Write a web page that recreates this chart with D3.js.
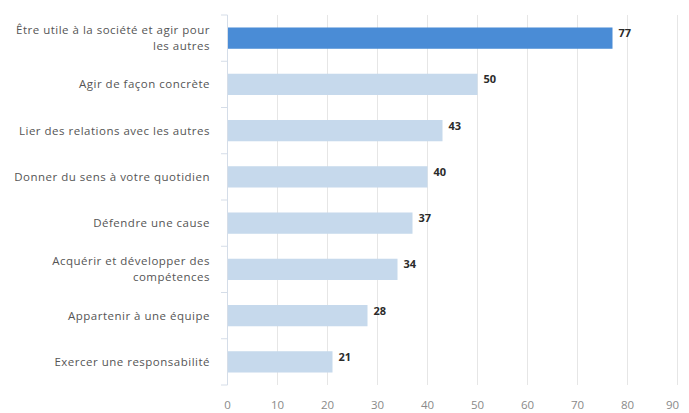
<!DOCTYPE html>
<html><head><meta charset="utf-8">
<script src="https://cdn.jsdelivr.net/npm/d3@7"></script>
<style>body{margin:0;background:#fff}svg{display:block}</style>
</head><body>
<svg id="c" width="689" height="413"></svg>
<script>
const categories = [
  "Être utile à la société et agir pour les autres",
  "Agir de façon concrète",
  "Lier des relations avec les autres",
  "Donner du sens à votre quotidien",
  "Défendre une cause",
  "Acquérir et développer des compétences",
  "Appartenir à une équipe",
  "Exercer une responsabilité"
];
const labelLines = [
  ["Être utile à la société et agir pour", "les autres"],
  ["Agir de façon concrète"],
  ["Lier des relations avec les autres"],
  ["Donner du sens à votre quotidien"],
  ["Défendre une cause"],
  ["Acquérir et développer des", "compétences"],
  ["Appartenir à une équipe"],
  ["Exercer une responsabilité"]
];
const values = [77, 50, 43, 40, 37, 34, 28, 21];
const xTicks = [0, 10, 20, 30, 40, 50, 60, 70, 80, 90];
const highlightIndex = 0;

const svg = d3.select("#c");
const font = "'Open Sans', sans-serif";
const x = d3.scaleLinear().domain([0, 90]).range([227.5, 677.5]);
const y = d3.scaleBand().domain(categories).range([15, 385]).paddingInner(0.54).paddingOuter(0.27);
const yb = d3.scaleBand().domain(categories).range([15, 385]);

// gridlines
svg.append("g").selectAll("line").data(xTicks.slice(1)).join("line")
  .attr("x1", d => x(d)).attr("x2", d => x(d))
  .attr("y1", 15).attr("y2", 385)
  .attr("stroke", "#e6e6e6").attr("stroke-width", 1);

// x tick labels
svg.append("g").selectAll("text").data(xTicks).join("text")
  .attr("x", d => x(d) - (d === 90 ? 5 : 0)).attr("y", 409)
  .attr("text-anchor", "middle")
  .attr("font-family", font).attr("font-size", 11.5).attr("fill", "#8a8a8a")
  .text(d => d);

// left axis line and category ticks
svg.append("line").attr("x1", 227.5).attr("x2", 227.5).attr("y1", 15).attr("y2", 385)
  .attr("stroke", "#d5dde8").attr("stroke-width", 1);
const tickYs = categories.map(c => yb(c)).concat([385]);
svg.append("g").selectAll("line").data(tickYs).join("line")
  .attr("x1", 221).attr("x2", 227.5).attr("y1", d => d).attr("y2", d => d)
  .attr("stroke", "#d5dde8").attr("stroke-width", 1);

// bars
svg.append("g").selectAll("rect").data(values).join("rect")
  .attr("x", x(0) + 0.5)
  .attr("y", (d, i) => y(categories[i]))
  .attr("width", d => x(d) - x(0) - 0.5)
  .attr("height", y.bandwidth())
  .attr("fill", (d, i) => i === highlightIndex ? "#4a8cd6" : "#c6d9ec");

// value labels
svg.append("g").selectAll("text").data(values).join("text")
  .attr("x", d => x(d) + 6)
  .attr("y", (d, i) => y(categories[i]) + y.bandwidth() / 2 - 1)
  .attr("font-family", font).attr("font-size", 11).attr("font-weight", "bold")
  .attr("fill", "#2b2b2b")
  .text(d => d);

// category labels
const lab = svg.append("g").selectAll("text").data(labelLines).join("text")
  .attr("text-anchor", "end")
  .attr("font-family", font).attr("font-size", 11.5).attr("letter-spacing", 0.5)
  .attr("fill", "#555");
lab.each(function(lines, i) {
  const cy = yb(categories[i]) + yb.bandwidth() / 2;
  const lh = 16;
  const start = cy - (lines.length - 1) * lh / 2 + 4;
  d3.select(this).selectAll("tspan").data(lines).join("tspan")
    .attr("x", 210).attr("y", (d, j) => start + j * lh).text(d => d);
});
</script>
</body></html>
